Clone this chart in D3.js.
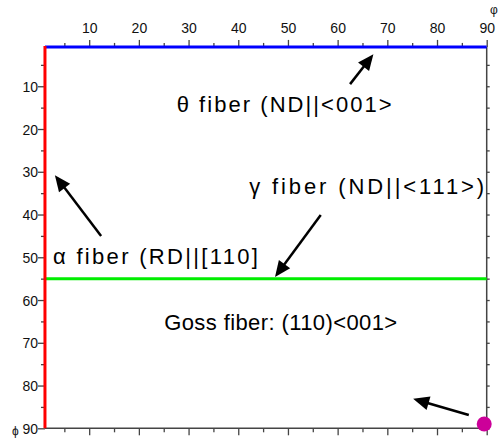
<!DOCTYPE html>
<html>
<head>
<meta charset="utf-8">
<script src="https://cdn.jsdelivr.net/npm/d3@7"></script>
<style>
  html, body { margin: 0; padding: 0; background: #fff; }
  svg { display: block; }
  text { font-family: "Liberation Sans", Arial, sans-serif; }
  .tick text { font-family: "Liberation Sans Narrow", "Arial Narrow", "Liberation Sans", sans-serif; }
</style>
</head>
<body>
<script>
// Euler space section, phi2 = 45°: phi1 across, Phi down
const phi1Ticks = [10, 20, 30, 40, 50, 60, 70, 80, 90];
const PhiTicks = [10, 20, 30, 40, 50, 60, 70, 80, 90];
const minorTicks = [5, 15, 25, 35, 45, 55, 65, 75, 85];

// fibre positions (degrees)
const thetaFiberPhi = 0.8;     // θ fibre along the top edge
const alphaFiberPhi1 = 1.1;    // α fibre along the left edge
const gammaFiberPhi = 55;      // γ fibre
const gossPoint = [89.5, 89];  // Goss orientation (phi1, Phi)

const labelTexts = [
  "θ fiber (ND||<001>",
  "γ  fiber (ND||<111>)",
  "α fiber (RD||[110]",
  "Goss fiber: (110)<001>"
];

// annotation layout, in (phi1, Phi) degrees
const labelAnchors = [[27.6, 16.0], [42.2, 35.2], [2.7, 51.6], [25.1, 67.0]];
const labelWidths = [215, 235, 205, 233];
const arrows = [
  { from: [62.5, 9.5], to: [67.2, 2.5] },
  { from: [12.4, 45.0], to: [3.1, 30.8] },
  { from: [56.6, 40.1], to: [47.4, 54.6] },
  { from: [86.4, 86.9], to: [75.2, 83.1] }
];

const W = 498, H = 439;
const svg = d3.select("body").append("svg").attr("width", W).attr("height", H);

const x = d3.scaleLinear().domain([0, 90]).range([39.5, 486.7]);
const y = d3.scaleLinear().domain([0, 90]).range([43.5, 428.3]);

const x0 = alphaFiberPhi1, y0 = thetaFiberPhi;
const axisCol = "#444";

// axes: ticks outward on every side
function ticksAxis(axisFn, scale, major, minor, labelled) {
  const g = svg.append("g");
  const a = axisFn(scale).tickValues(major).tickSize(7).tickSizeOuter(0);
  if (!labelled) a.tickFormat("");
  g.call(a);
  g.select(".domain").remove();
  g.selectAll("line").attr("stroke", axisCol).attr("stroke-width", 1.3);
  g.selectAll("text")
    .style("font-size", "14px").attr("fill", "#111");
  const m = axisFn(scale).tickValues(minor).tickSize(4).tickSizeOuter(0).tickFormat("");
  const g2 = svg.append("g").call(m);
  g2.select(".domain").remove();
  g2.selectAll("line").attr("stroke", axisCol).attr("stroke-width", 1.3);
  return [g, g2];
}

let [tTop, tTop2] = ticksAxis(d3.axisTop, x, phi1Ticks, minorTicks, true);
tTop.attr("transform", `translate(0,${y(y0)})`);
tTop2.attr("transform", `translate(0,${y(y0)})`);
tTop.selectAll("text").attr("dy", "0").attr("y", -14);

let [tBot, tBot2] = ticksAxis(d3.axisBottom, x, phi1Ticks, minorTicks, false);
tBot.attr("transform", `translate(0,${y(90)})`);
tBot2.attr("transform", `translate(0,${y(90)})`);

let [tLeft, tLeft2] = ticksAxis(d3.axisLeft, y, PhiTicks, minorTicks, true);
tLeft.attr("transform", `translate(${x(x0)},0)`);
tLeft2.attr("transform", `translate(${x(x0)},0)`);
tLeft.selectAll("text").attr("x", -7).attr("dy", "0.36em");

let [tRight, tRight2] = ticksAxis(d3.axisRight, y, PhiTicks, minorTicks, false);
tRight.attr("transform", `translate(${x(90)},0)`);
tRight2.attr("transform", `translate(${x(90)},0)`);
tRight.selectAll("line").attr("x2", 3);
tRight2.selectAll("line").attr("x2", 3);

// frame edges
svg.append("line").attr("x1", x(x0)).attr("x2", x(90)).attr("y1", y(90)).attr("y2", y(90))
  .attr("stroke", axisCol).attr("stroke-width", 1.5);
svg.append("line").attr("x1", x(90)).attr("x2", x(90)).attr("y1", y(y0)).attr("y2", y(90))
  .attr("stroke", axisCol).attr("stroke-width", 1.5);

// fibres
svg.append("line").attr("x1", x(x0)).attr("x2", x(90)).attr("y1", y(gammaFiberPhi)).attr("y2", y(gammaFiberPhi))
  .attr("stroke", "#00ee00").attr("stroke-width", 3);
svg.append("line").attr("x1", x(x0)).attr("x2", x(90)).attr("y1", y(thetaFiberPhi)).attr("y2", y(thetaFiberPhi))
  .attr("stroke", "#0000ff").attr("stroke-width", 3);
svg.append("line").attr("x1", x(alphaFiberPhi1)).attr("x2", x(alphaFiberPhi1)).attr("y1", y(y0) - 1).attr("y2", y(90))
  .attr("stroke", "#ff0000").attr("stroke-width", 3);

// Goss
svg.append("circle").attr("cx", x(gossPoint[0])).attr("cy", y(gossPoint[1])).attr("r", 7.5)
  .attr("fill", "#cc0099");

// labels
svg.selectAll("text.lab").data(labelTexts).join("text").attr("class", "lab")
  .attr("x", (d, i) => x(labelAnchors[i][0])).attr("y", (d, i) => y(labelAnchors[i][1]))
  .attr("textLength", (d, i) => labelWidths[i]).attr("lengthAdjust", "spacing")
  .style("font-size", "22px").attr("fill", "#000")
  .text(d => d);

// arrows with filled heads
const headLen = 16, headHalf = 7;
arrows.forEach(a => {
  const x1 = x(a.from[0]), y1 = y(a.from[1]), x2 = x(a.to[0]), y2 = y(a.to[1]);
  const dx = x2 - x1, dy = y2 - y1, L = Math.hypot(dx, dy);
  const ux = dx / L, uy = dy / L;
  const bx = x2 - ux * headLen, by = y2 - uy * headLen;
  svg.append("line").attr("x1", x1).attr("y1", y1).attr("x2", bx + ux * 2).attr("y2", by + uy * 2)
    .attr("stroke", "#000").attr("stroke-width", 2.5);
  svg.append("path")
    .attr("d", `M${x2},${y2}L${bx - uy * headHalf},${by + ux * headHalf}L${bx + uy * headHalf},${by - ux * headHalf}Z`)
    .attr("fill", "#000");
});

// axis symbols
svg.append("text").attr("x", 490).attr("y", 14).style("font-size", "12px").attr("fill", "#111").text("φ");
svg.append("text").attr("x", 12).attr("y", 435).style("font-size", "12px").attr("fill", "#111").text("ϕ");
</script>
</body>
</html>
